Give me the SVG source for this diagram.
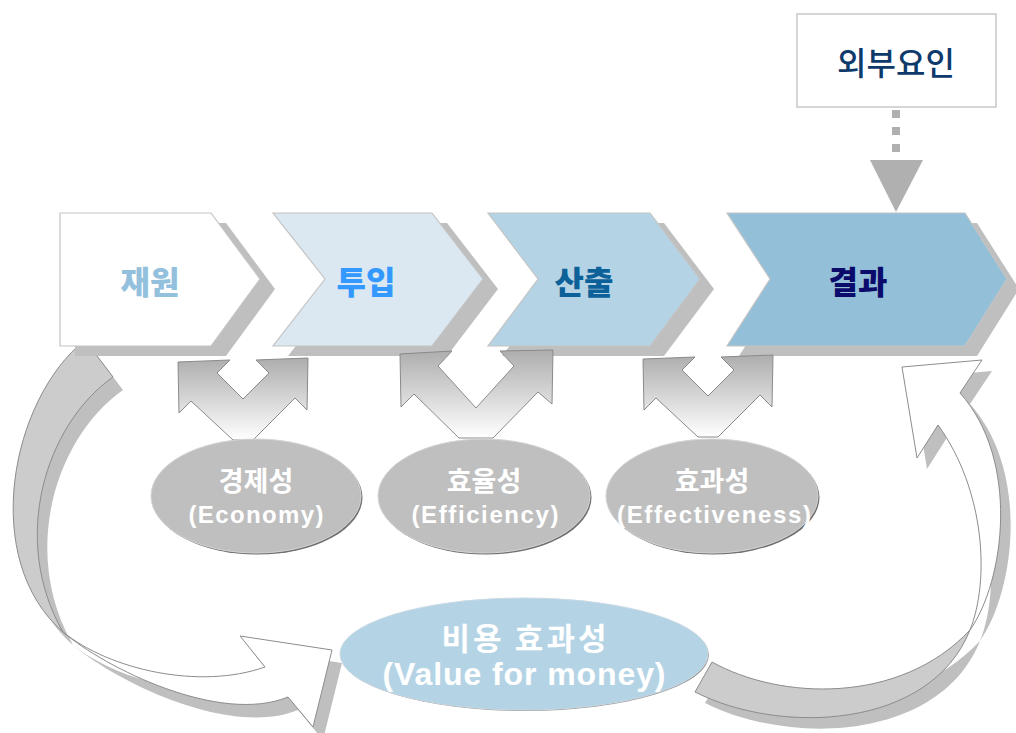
<svg xmlns="http://www.w3.org/2000/svg" xmlns:xlink="http://www.w3.org/1999/xlink" width="1016" height="733" viewBox="0 0 1016 733">
<style>
.chev{stroke:#c4c4c4;stroke-width:1.2}
.shadow{fill:#bfbfbf}
.ktitle{font-family:"Noto Sans CJK KR","Noto Sans",sans-serif;font-weight:900;font-size:32px;text-anchor:middle}
.ell{fill:#bfbfbf;stroke:#d4d4d4;stroke-width:1}
.ellsh{fill:#707070}
.etxt{font-family:"Liberation Sans","Noto Sans CJK KR",sans-serif;font-weight:bold;font-size:24px;fill:#ffffff;text-anchor:middle}
.ktxt{font-family:"Noto Sans CJK KR","Noto Sans",sans-serif;font-weight:bold;font-size:27px;fill:#ffffff;text-anchor:middle}
.varrow{fill:url(#vgrad);stroke:#8a8a8a;stroke-width:1}
.face{fill:#cccccc;stroke:#8c8c8c;stroke-width:1}
.white{fill:#ffffff;stroke:#8c8c8c;stroke-width:1}
.csh{fill:#bfbfbf}
</style>
<defs>
<linearGradient id="vgrad" x1="0" y1="0" x2="0" y2="1">
<stop offset="0" stop-color="#adadad"/>
<stop offset="1" stop-color="#ffffff"/>
</linearGradient>
<path id="lA" d="M 85 340 C 10 400, -20 560, 63 632 C 10 540, 45 425, 113 377 Z"/>
<path id="lB" d="M 63 632 C 110 670, 200 690, 265 667 L 240 636 L 332 650 L 313 727 L 288 697 C 220 725, 105 668, 63 632 Z"/>
<path id="rC" d="M 712 662 C 780 700, 900 705, 970 630 C 930 730, 780 735, 695 692 Z"/>
<path id="rD" d="M 970 630 C 990 580, 985 490, 938 425 L 917 458 L 902 367 L 982 360 L 960 393 C 1020 460, 1005 580, 970 630 Z"/>
<path id="v1" d="M -65 362 L -13 360 L -26 373 L 0 399 L 26 373 L 13 360 L 65 358 L 64 410 L 52 398 L 10 440 L -10 440 L -52 401 L -64 413 Z"/>
<path id="v2" d="M -76 354 L -24 351 L -38 366 L 0 408 L 38 366 L 24 351 L 77 350 L 76 404 L 62 392 L 17 438 L -17 438 L -62 394 L -75 407 Z"/>
</defs>

<g id="connectors">
  <g id="loop-left">
    <use href="#lA" class="csh" transform="translate(10,13)"/>
    <use href="#lB" class="csh" transform="translate(10,13)"/>
    <use href="#lA" class="face"/>
    <use href="#lB" class="white"/>
  </g>
  <g id="loop-right">
    <use href="#rC" class="csh" transform="translate(10,11)"/>
    <use href="#rD" class="csh" transform="translate(10,11)"/>
    <use href="#rC" class="face"/>
    <use href="#rD" class="white"/>
  </g>
</g>

<g id="node-jaewon">
  <path class="shadow" transform="translate(15,10)" d="M60 213 L211 213 L260 279 L211 346 L60 346 Z"/>
  <path class="chev" fill="#ffffff" d="M60 213 L211 213 L260 279 L211 346 L60 346 Z"/>
  <text class="ktitle" x="150" y="294" fill="#93c0dc">재원</text>
</g>
<g id="node-tuip">
  <path class="shadow" transform="translate(15,10)" d="M273 213 L432 213 L483 279 L432 346 L273 346 L325 279 Z"/>
  <path class="chev" fill="#dbe8f1" d="M273 213 L432 213 L483 279 L432 346 L273 346 L325 279 Z"/>
  <text class="ktitle" x="366" y="294" fill="#3399ff">투입</text>
</g>
<g id="node-sanchul">
  <path class="shadow" transform="translate(14,10)" d="M488 213 L650 213 L700 279 L650 346 L488 346 L538 279 Z"/>
  <path class="chev" fill="#b4d3e5" d="M488 213 L650 213 L700 279 L650 346 L488 346 L538 279 Z"/>
  <text class="ktitle" x="584" y="294" fill="#0c6198">산출</text>
</g>
<g id="node-gyeolgwa">
  <path class="shadow" transform="translate(12,10)" d="M727 213 L965 213 L1007 279 L965 346 L727 346 L770 279 Z"/>
  <path class="chev" fill="#93bfd8" d="M727 213 L965 213 L1007 279 L965 346 L727 346 L770 279 Z"/>
  <text class="ktitle" x="858" y="294" fill="#0b0b6b">결과</text>
</g>

<g id="node-external">
  <rect x="797" y="14" width="199" height="93" fill="#ffffff" stroke="#c8c8c8" stroke-width="1.5"/>
  <text x="896" y="75" font-family="Noto Sans CJK KR, Noto Sans, sans-serif" font-weight="500" font-size="32" fill="#0e3a6b" text-anchor="middle">외부요인</text>
</g>

<g id="connector-external">
  <line x1="896" y1="110" x2="896" y2="157" stroke="#b0b0b0" stroke-width="8" stroke-dasharray="8 9"/>
  <polygon points="870,160 923,160 896,212" fill="#b0b0b0"/>
</g>

<g id="v-arrows">
  <use href="#v1" class="varrow" transform="translate(243,0)"/>
  <use href="#v2" class="varrow" transform="translate(476,0)"/>
  <use href="#v1" class="varrow" transform="translate(708,-3)"/>
</g>

<g id="node-economy">
  <ellipse class="ellsh" cx="257.5" cy="497.5" rx="105" ry="57"/>
  <ellipse class="ell" cx="256" cy="496" rx="105" ry="57"/>
  <text class="ktxt" x="256" y="491">경제성</text>
  <text class="etxt" x="256" y="523" textLength="135" lengthAdjust="spacing">(Economy)</text>
</g>
<g id="node-efficiency">
  <ellipse class="ellsh" cx="485.5" cy="497.5" rx="106" ry="57"/>
  <ellipse class="ell" cx="484" cy="496" rx="106" ry="57"/>
  <text class="ktxt" x="484" y="491">효율성</text>
  <text class="etxt" x="485" y="523" textLength="147" lengthAdjust="spacing">(Efficiency)</text>
</g>
<g id="node-effectiveness">
  <ellipse class="ellsh" cx="713.5" cy="497.5" rx="106" ry="57"/>
  <ellipse class="ell" cx="712" cy="496" rx="106" ry="57"/>
  <text class="ktxt" x="712" y="491">효과성</text>
  <text class="etxt" x="714" y="523" textLength="194" lengthAdjust="spacing">(Effectiveness)</text>
</g>

<g id="node-vfm">
  <ellipse cx="525" cy="655" rx="184" ry="56" fill="#9a9a9a"/>
  <ellipse cx="524" cy="654" rx="184" ry="56" fill="#b4d4e6" stroke="#c9d9e3" stroke-width="1"/>
  <text x="524" y="650" font-family="Noto Sans CJK KR, Noto Sans, sans-serif" font-weight="bold" font-size="31" fill="#ffffff" text-anchor="middle" textLength="165" lengthAdjust="spacing">비용 효과성</text>
  <text x="524" y="685" font-family="Liberation Sans, Noto Sans CJK KR, sans-serif" font-weight="bold" font-size="32" fill="#ffffff" text-anchor="middle" textLength="283" lengthAdjust="spacing">(Value for money)</text>
</g>
</svg>
